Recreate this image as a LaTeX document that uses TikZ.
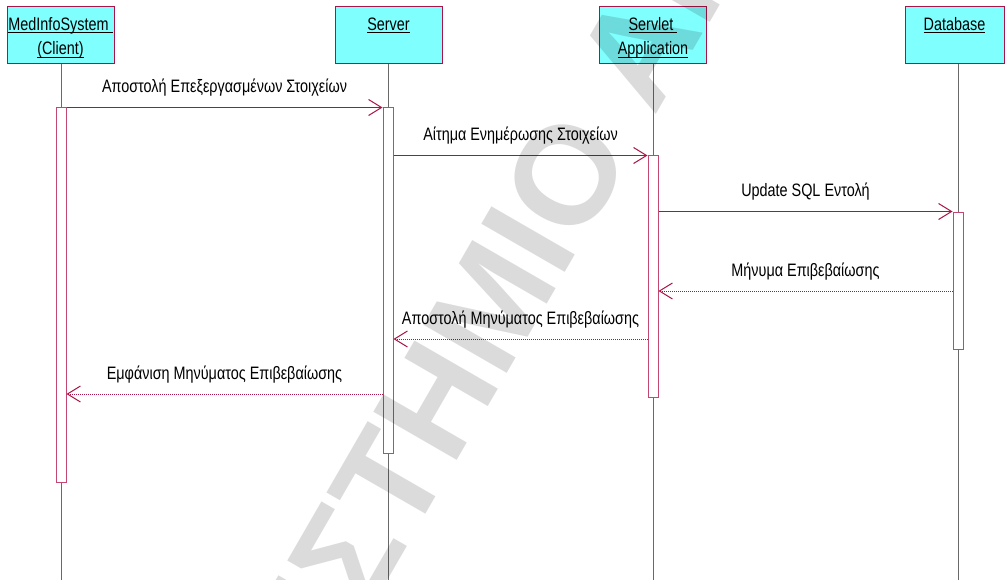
\documentclass[tikz,border=0pt]{standalone}
\usepackage{fontspec}
\setmainfont[FakeStretch=0.8]{Liberation Sans}
\newfontfamily\wmfont{Liberation Sans}
\usetikzlibrary{arrows.meta}

\definecolor{umlred}{RGB}{168,20,72}
\definecolor{barred}{RGB}{196,70,115}
\definecolor{headfill}{RGB}{128,255,255}
\definecolor{lifegray}{RGB}{105,105,105}

% underline at a fixed depth below the baseline
\newcommand\undl[1]{\setbox0\hbox{#1}\rlap{\rule[-2.6pt]{\wd0}{0.9pt}}\box0}

\begin{document}
\begin{tikzpicture}[x=1pt,y=-1pt,
  headbox/.style={rectangle, draw=umlred, fill=headfill, line width=1pt,
    minimum width=107pt, minimum height=57pt, inner sep=0pt},
  headtext/.style={font=\fontsize{18}{24}\selectfont,
    inner sep=0pt, anchor=base},
  bar/.style={rectangle, draw=barred, fill=white, line width=1pt,
    minimum width=10pt, inner sep=0pt},
  lifeline/.style={draw=lifegray, line width=0.8pt},
  call/.style={draw=umlred, line width=1pt,
    -{Straight Barb[length=13pt,width=16pt,line width=1pt]}},
  reply/.style={call, dash pattern=on 1pt off 1pt},
  msg/.style={font=\fontsize{18}{22}\selectfont, anchor=base, inner sep=0pt,
    midway, yshift=15pt, text=black},
  wm/.style={rotate=60, inner sep=0pt, text=black, text opacity=0.14,
    font=\wmfont\bfseries\fontsize{140}{140}\selectfont}
]
\useasboundingbox (0,0) rectangle (1006,580);
\fill[white] (0,0) rectangle (1006,580);

\coordinate (bottom) at (0,580);
\coordinate (line1) at (0,30.5);
\coordinate (line2) at (0,55);

% object heads
\node[headbox] (cli) at (60.5,35.5) {};
\node[headbox] (srv) at (388.5,35.5) {};
\node[headbox] (svl) at (653,35.5) {};
\node[headbox, minimum width=99pt] (db) at (954.5,35.5) {};

\node[headtext] (cliT1) at (cli.north |- line1) {\undl{MedInfoSystem\ }};
\node[headtext] (cliT2) at (cli.north |- line2) {\undl{(Client)}};
\node[headtext] (srvT)  at (srv.north |- line1) {\undl{Server}};
\node[headtext] (svlT1) at (svl.north |- line1) {\undl{Servlet\ }};
\node[headtext] (svlT2) at (svl.north |- line2) {\undl{Application}};
\node[headtext] (dbT)   at (db.north  |- line1) {\undl{Database}};

% lifelines
\draw[lifeline] (61,0 |- cli.south) coordinate (cliL) -- (cliL |- bottom);
\draw[lifeline] (388,0 |- srv.south) coordinate (srvL) -- (srvL |- bottom);
\draw[lifeline] (653,0 |- svl.south) coordinate (svlL) -- (svlL |- bottom);
\draw[lifeline] (958,0 |- db.south) coordinate (dbL) -- (dbL |- bottom);

% activation bars
\node[bar, minimum height=374pt] (cbar) at (61,295) {};
\node[bar, minimum height=345pt] (sbar) at (388,280.5) {};
\node[bar, minimum height=241pt] (vbar) at (653,276.5) {};
\node[bar, minimum height=137pt] (dbar) at (958,280.5) {};

% rows of the reply messages
\coordinate (r4) at (0,291);
\coordinate (r5) at (0,339);
\coordinate (r6) at (0,394);

% messages
\draw[call] (cbar.north east) -- (sbar.north west)
  node[msg] (m1) {Αποστολή Επεξεργασμένων Στοιχείων};
\draw[call] (sbar.east |- vbar.north) -- (vbar.north west)
  node[msg] (m2) {Αίτημα Ενημέρωσης Στοιχείων};
\draw[call] (vbar.east |- dbar.north) -- (dbar.north west)
  node[msg] (m3) {Update SQL Εντολή};
\draw[reply] (dbar.west |- r4) -- (vbar.east |- r4)
  node[msg] (m4) {Μήνυμα Επιβεβαίωσης};
\draw[reply] (vbar.west |- r5) -- (sbar.east |- r5)
  node[msg] (m5) {Αποστολή Μηνύματος Επιβεβαίωσης};
\draw[reply] (sbar.west |- r6) -- (cbar.east |- r6)
  node[msg] (m6) {Εμφάνιση Μηνύματος Επιβεβαίωσης};

% watermark
\begin{scope}
\clip (0,0) rectangle (1006,580);
\node[wm, anchor=base east] (wmA) at (635,152) {ΠΑΝΕΠΙΣΤΗΜΙΟ};
\node[wm, anchor=base west] (wmB) at (654.5,118) {ΑΙΓΑΙΟΥ};
\end{scope}
\end{tikzpicture}
\end{document}
